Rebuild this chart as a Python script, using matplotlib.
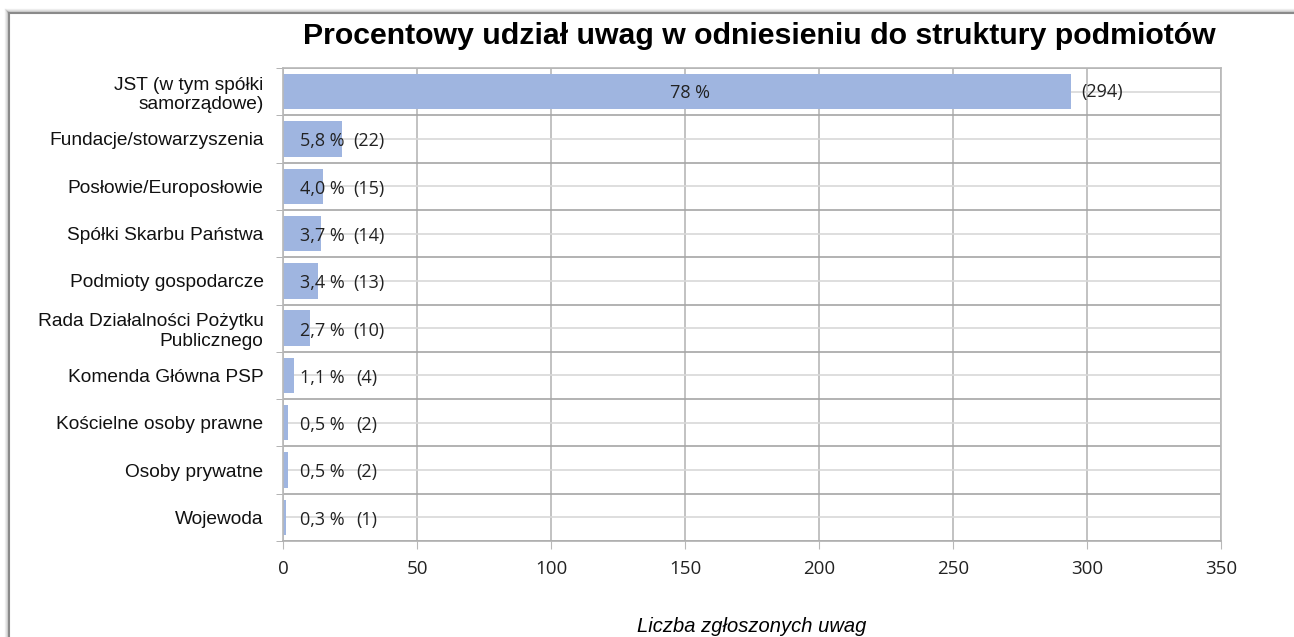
import numpy as np
import matplotlib
matplotlib.use("Agg")
import matplotlib.pyplot as plt
from matplotlib.lines import Line2D

# data
categories = ["JST (w tym spółki\nsamorządowe)", "Fundacje/stowarzyszenia", "Posłowie/Europosłowie",
              "Spółki Skarbu Państwa", "Podmioty gospodarcze",
              "Rada Działalności Pożytku\nPublicznego",
              "Komenda Główna PSP", "Kościelne osoby prawne", "Osoby prywatne", "Wojewoda"]
counts = [294, 22, 15, 14, 13, 10, 4, 2, 2, 1]
percents = ["78 %", "5,8 %", "4,0 %", "3,7 %", "3,4 %", "2,7 %", "1,1 %", "0,5 %", "0,5 %", "0,3 %"]
x_ticks = [0, 50, 100, 150, 200, 250, 300, 350]

W, H = 1294, 637
fig = plt.figure(figsize=(W / 100, H / 100), dpi=100)
ax = fig.add_axes([283 / W, 1 - 541 / H, (1221 - 283) / W, (541 - 68) / H])

y = np.arange(len(categories))
ax.barh(y, counts, height=0.75, color="#9fb5e0", zorder=2)

ax.set_xlim(0, 350)
ax.set_ylim(len(categories) - 0.5, -0.5)
ax.set_xticks(x_ticks)
ax.set_xticklabels([str(t) for t in x_ticks], fontsize=13.5, family="Open Sans", color="#222222")
ax.set_yticks(y)
ax.set_yticklabels(categories, fontsize=13.8, family="Liberation Sans", color="#111111")
ax.set_yticks(np.arange(len(categories) + 1) - 0.5, minor=True)

ax.grid(axis="x", which="major", color="#b8b8b8", lw=1.2, zorder=0)
ax.grid(axis="y", which="major", color="#d8d8d8", lw=1.2, zorder=0)
ax.grid(axis="y", which="minor", color="#a6a6a6", lw=1.2, zorder=0)
ax.tick_params(axis="y", which="major", length=0, pad=14)
ax.tick_params(axis="y", which="minor", length=5, color="#a6a6a6")
ax.tick_params(axis="x", which="major", length=6, color="#b8b8b8", pad=8)
for s in ax.spines.values():
    s.set_color("#b8b8b8")
    s.set_linewidth(1.2)
ax.spines["bottom"].set_color("#b0b0b0")

# data labels
lab_font = dict(family="Open Sans", fontsize=13, color="#222222", zorder=3)
ax.text(counts[0] / 2 + 5, 0.03, percents[0], ha="center", va="center", **lab_font)
ax.text(counts[0] + 4, 0, "(%d)" % counts[0], ha="left", va="center", **lab_font)
for i in range(1, len(categories)):
    ax.text(6.3, i + 0.05, percents[i], ha="left", va="center", **lab_font)
    ax.text(26.1 if counts[i] >= 10 else 27.4, i + 0.05, "(%d)" % counts[i], ha="left", va="center", **lab_font)

ax.set_xlabel("Liczba zgłoszonych uwag", fontsize=14.5, style="italic",
              family="Liberation Sans", labelpad=28)
fig.text(759 / W, 1 - 36 / H, "Procentowy udział uwag w odniesieniu do struktury podmiotów",
         ha="center", va="center", fontsize=21.8, fontweight="bold", family="Liberation Sans")

# chart frame with soft shadow
fx, fy = 9 / W, 1 - 13 / H
for k, a in enumerate([0.05, 0.09, 0.14, 0.2]):
    off = (4 - k) / W, (4 - k) / H
    fig.add_artist(Line2D([fx - off[0], fx - off[0]], [0, fy + off[1]], color="black", alpha=a, lw=1))
    fig.add_artist(Line2D([fx - off[0], 1], [fy + off[1], fy + off[1]], color="black", alpha=a, lw=1))
fig.add_artist(Line2D([fx, fx], [0, fy], color="#8a8a8a", lw=1.5))
fig.add_artist(Line2D([fx, 1], [fy, fy], color="#8a8a8a", lw=1.5))

fig.savefig("out.png", dpi=100)
